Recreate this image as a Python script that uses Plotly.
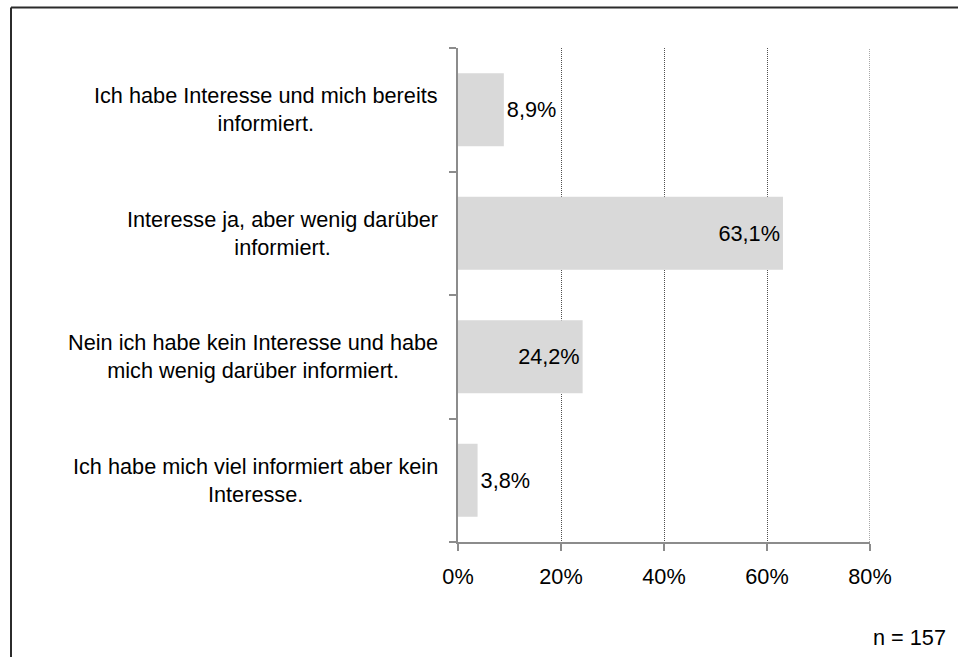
import plotly.graph_objects as go

# Survey answers (top to bottom) and their shares in percent
categories = [
    "Ich habe Interesse und mich bereits<br>informiert.",
    "Interesse ja, aber wenig darüber<br>informiert.",
    "Nein ich habe kein Interesse und habe<br>mich wenig darüber informiert.",
    "Ich habe mich viel informiert aber kein<br>Interesse.",
]
shares = [8.9, 63.1, 24.2, 3.8]
label_positions = ["outside", "inside", "inside", "outside"]
x_ticks = [0, 20, 40, 60, 80]
x_tick_labels = ["0%", "20%", "40%", "60%", "80%"]
sample_note = "n = 157"

W, H = 958, 657
L, R, T, B = 458, 88, 48, 115
FONT = "Liberation Sans, Arial, sans-serif"
FS = 21.7


def px_x(px):
    return (px - L) / (W - L - R)


def px_y(py):
    return 1 - (py - T) / (H - T - B)


fig = go.Figure(
    go.Bar(
        x=shares,
        y=list(range(len(categories))),
        orientation="h",
        width=0.59,
        marker=dict(color="#d9d9d9", line=dict(width=0)),
        text=shares,
        texttemplate="%{x:.1f}%",
        textposition=label_positions,
        insidetextanchor="end",
        textfont=dict(family=FONT, size=FS, color="#000000"),
        cliponaxis=False,
        hoverinfo="skip",
    )
)

# Category labels, centred line by line, right-aligned next to the axis
annotations = []
for i, cat in enumerate(categories):
    annotations.append(
        dict(
            x=px_x(440), xref="paper", xanchor="right",
            y=i, yref="y", yanchor="middle",
            text=cat, showarrow=False, align="center",
            font=dict(family=FONT, size=FS, color="#000000"),
        )
    )
annotations.append(
    dict(
        x=px_x(948), xref="paper", xanchor="right",
        y=px_y(637), yref="paper", yanchor="middle",
        text=sample_note, showarrow=False,
        font=dict(family=FONT, size=FS, color="#000000"),
    )
)

GRID = dict(color="#4f4f4f", width=1, dash="1px,1px")

# Outer frame (top and left edges visible) and the gridline at the axis end
shapes = [
    dict(type="line", xref="paper", yref="paper",
         x0=px_x(11), x1=px_x(970), y0=px_y(7.5), y1=px_y(7.5),
         line=dict(color="#2b2b2b", width=2)),
    dict(type="line", xref="paper", yref="paper",
         x0=px_x(11), x1=px_x(11), y0=px_y(7.5), y1=px_y(670),
         line=dict(color="#2b2b2b", width=2)),
    dict(type="line", xref="x", yref="paper",
         x0=x_ticks[-1], x1=x_ticks[-1], y0=0, y1=1,
         line=GRID, layer="below"),
]

fig.update_layout(
    width=W, height=H,
    margin=dict(l=L, r=R, t=T, b=B),
    paper_bgcolor="white", plot_bgcolor="white",
    showlegend=False,
    separators=",.",
    annotations=annotations,
    shapes=shapes,
    font=dict(family=FONT, size=FS, color="#000000"),
    xaxis=dict(
        range=[0, 80], tickmode="array", tickvals=x_ticks, ticktext=x_tick_labels,
        showgrid=True, gridcolor=GRID["color"], griddash=GRID["dash"], gridwidth=1,
        showline=True, linecolor="#8c8c8c", linewidth=2,
        ticks="outside", ticklen=7, tickwidth=1.5, tickcolor="#8c8c8c",
        zeroline=False, ticklabelstandoff=7,
        tickfont=dict(family=FONT, size=FS, color="#000000"),
    ),
    yaxis=dict(
        type="linear", range=[3.5, -0.5],
        tickvals=[-0.5, 0.5, 1.5, 2.5, 3.5], showticklabels=False,
        showgrid=False, zeroline=False,
        showline=True, linecolor="#8c8c8c", linewidth=2,
        ticks="outside", ticklen=7, tickwidth=1.5, tickcolor="#8c8c8c",
    ),
)

fig.write_html("out.html")
